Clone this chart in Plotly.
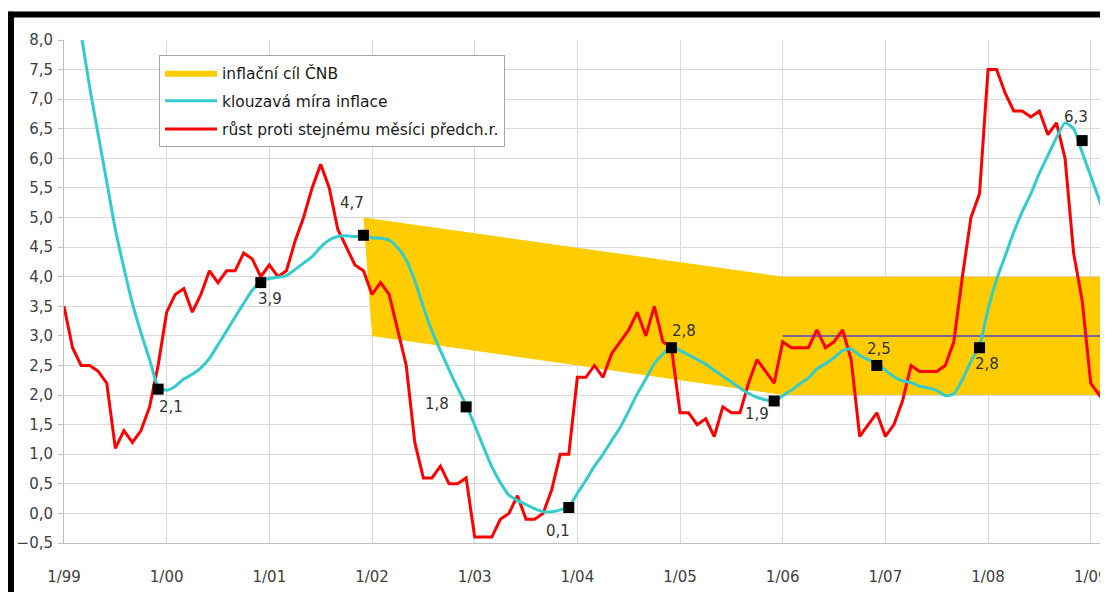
import plotly.graph_objects as go

# ---------------- data (month index 0 = 1/1999) ----------------
yoy_growth = [
    3.5, 2.8, 2.5, 2.5, 2.4, 2.2, 1.1, 1.4, 1.2, 1.4, 1.8, 2.5,        # 1999
    3.4, 3.7, 3.8, 3.4, 3.7, 4.1, 3.9, 4.1, 4.1, 4.4, 4.3, 4.0,        # 2000
    4.2, 4.0, 4.1, 4.6, 5.0, 5.5, 5.9, 5.5, 4.8, 4.5, 4.2, 4.1,        # 2001
    3.7, 3.9, 3.7, 3.1, 2.5, 1.2, 0.6, 0.6, 0.8, 0.5, 0.5, 0.6,        # 2002
    -0.4, -0.4, -0.4, -0.1, 0.0, 0.3, -0.1, -0.1, 0.0, 0.4, 1.0, 1.0,  # 2003
    2.3, 2.3, 2.5, 2.3, 2.7, 2.9, 3.1, 3.4, 3.0, 3.5, 2.9, 2.8,        # 2004
    1.7, 1.7, 1.5, 1.6, 1.3, 1.8, 1.7, 1.7, 2.2, 2.6, 2.4, 2.2,        # 2005
    2.9, 2.8, 2.8, 2.8, 3.1, 2.8, 2.9, 3.1, 2.6, 1.3, 1.5, 1.7,        # 2006
    1.3, 1.5, 1.9, 2.5, 2.4, 2.4, 2.4, 2.5, 2.9, 4.0, 5.0, 5.4,        # 2007
    7.5, 7.5, 7.1, 6.8, 6.8, 6.7, 6.8, 6.4, 6.6, 6.0, 4.4, 3.6,        # 2008
    2.2, 2.0, 2.3,                                                    # 2009
]

moving_avg = [
    None, None, 8.1, 7.2, 6.4, 5.6, 4.8, 4.15, 3.55, 3.05, 2.6, 2.15,          # 1999
    2.08, 2.15, 2.27, 2.35, 2.46, 2.62, 2.85, 3.08, 3.32, 3.55, 3.77, 3.92,    # 2000
    3.97, 3.99, 4.02, 4.12, 4.23, 4.34, 4.5, 4.62, 4.68, 4.69, 4.68, 4.69,     # 2001
    4.66, 4.65, 4.62, 4.49, 4.28, 3.93, 3.49, 3.08, 2.75, 2.43, 2.12, 1.83,    # 2002
    1.49, 1.13, 0.79, 0.52, 0.31, 0.22, 0.15, 0.08, 0.03, 0.03, 0.06, 0.11,    # 2003
    0.34, 0.56, 0.8, 1.0, 1.23, 1.45, 1.73, 2.02, 2.27, 2.53, 2.69, 2.84,      # 2004
    2.75, 2.68, 2.6, 2.52, 2.42, 2.32, 2.22, 2.12, 2.03, 1.96, 1.92, 1.89,     # 2005
    1.99, 2.08, 2.19, 2.29, 2.44, 2.53, 2.63, 2.75, 2.78, 2.67, 2.6, 2.53,     # 2006
    2.42, 2.31, 2.24, 2.21, 2.15, 2.12, 2.08, 1.99, 2.02, 2.26, 2.57, 2.83,    # 2007
    3.45, 3.95, 4.35, 4.75, 5.1, 5.4, 5.75, 6.05, 6.35, 6.6, 6.5, 6.1,         # 2008
    5.7, 5.3, 4.9,                                                            # 2009
]

annual_years = [1999, 2000, 2001, 2002, 2003, 2004, 2005, 2006, 2007, 2008]
annual_avg = [2.1, 3.9, 4.7, 1.8, 0.1, 2.8, 1.9, 2.5, 2.8, 6.3]

# CNB inflation target band (month index of corner points)
band_upper_months = [35, 84, 123]
band_upper = [5.0, 4.0, 4.0]
band_lower_months = [36, 84, 123]
band_lower = [3.0, 2.0, 2.0]
target_mid_months = [84, 123]
target_mid = [3.0, 3.0]

year_tick_months = [0, 12, 24, 36, 48, 60, 72, 84, 96, 108, 120]
year_tick_labels = ["1/99", "1/00", "1/01", "1/02", "1/03", "1/04", "1/05",
                    "1/06", "1/07", "1/08", "1/09"]
mid_tick_months = [6, 18, 30, 42, 54, 66, 78, 90, 102, 114]
mid_tick_labels = ["7", "7", "7", "7", "7", "7", "7", "7", "7", "7"]

legend_names = ["inflační cíl ČNB", "klouzavá míra inflace",
                "růst proti stejnému měsíci předch.r."]

# ---------------- styles ----------------
FONT = "DejaVu Sans"
TXT = "#404040"
GRID = "#d9d9d9"
label_xshift = [13, 9, -11, -29, -11, 13, -17, 2, 8, -6]
label_yshift = [-18, -16, 32, 3, -24, 17, -13, 16, -16, 24]

months = list(range(len(yoy_growth)))
annual_months = [(y - annual_years[0]) * 12 + 11 for y in annual_years]

fig = go.Figure()

fig.add_trace(go.Scatter(
    x=band_upper_months + band_lower_months[::-1],
    y=band_upper + band_lower[::-1],
    fill="toself", fillcolor="#FFCC00", mode="lines",
    line=dict(width=0, color="#FFCC00"),
    name=legend_names[0], legendgroup="g1", legendrank=1, hoverinfo="skip",
))
fig.add_trace(go.Scatter(
    x=target_mid_months, y=target_mid, mode="lines",
    line=dict(color="#76699A", width=2), showlegend=False, hoverinfo="skip",
))
fig.add_trace(go.Scatter(
    x=months, y=yoy_growth, mode="lines",
    line=dict(color="#FF0000", width=3),
    name=legend_names[2], legendgroup="g3", legendrank=3,
))
fig.add_trace(go.Scatter(
    x=months, y=moving_avg, mode="lines",
    line=dict(color="#33CCCC", width=3, shape="spline", smoothing=0.6),
    name=legend_names[1], legendgroup="g2", legendrank=2,
))
fig.add_trace(go.Scatter(
    x=annual_months, y=annual_avg, mode="markers",
    marker=dict(symbol="square", size=11, color="#000000"),
    showlegend=False, cliponaxis=False,
))

annotations = []
for i, (mx, val) in enumerate(zip(annual_months, annual_avg)):
    annotations.append(dict(
        x=mx, y=val, xref="x", yref="y",
        text=f"{val:.1f}".replace(".", ","),
        showarrow=False, xanchor="center", yanchor="middle",
        xshift=label_xshift[i], yshift=label_yshift[i],
        font=dict(family=FONT, size=15, color="#333333"),
    ))

x_range = [0, 122.02]

fig.update_layout(
    width=1108, height=592,
    margin=dict(l=56, r=8, t=32, b=57, pad=0),
    paper_bgcolor="white", plot_bgcolor="white",
    separators=", ",
    font=dict(family=FONT, size=15, color=TXT),
    showlegend=True,
    legend=dict(
        x=0.091, y=0.970, xanchor="left", yanchor="top",
        bgcolor="white", bordercolor="#a6a6a6", borderwidth=1,
        font=dict(family=FONT, size=15.5, color="#1a1a1a"),
        tracegroupgap=5, itemwidth=52,
    ),
    xaxis=dict(
        range=x_range, tickmode="array",
        tickvals=year_tick_months, ticktext=year_tick_labels,
        showgrid=True, gridcolor=GRID, gridwidth=1,
        showline=True, linecolor="#bfbfbf", linewidth=1,
        zeroline=False, ticks="", ticklabelstandoff=20,
        tickfont=dict(family=FONT, size=15, color=TXT),
    ),
    xaxis2=dict(
        range=x_range, overlaying="x", anchor="y", side="bottom",
        tickmode="array", tickvals=mid_tick_months, ticktext=mid_tick_labels,
        showgrid=False, showline=False, zeroline=False, ticks="",
        ticklabelstandoff=20,
        tickfont=dict(family=FONT, size=15, color=TXT),
    ),
    yaxis=dict(
        range=[-0.5, 8.0], tick0=0, dtick=0.5, tickformat=".1f",
        showgrid=True, gridcolor=GRID, gridwidth=1,
        showline=True, linecolor="#bfbfbf", linewidth=1,
        zeroline=False, ticks="outside", ticklen=5, tickcolor="#bfbfbf",
        ticklabelstandoff=2,
        tickfont=dict(family=FONT, size=15, color=TXT),
    ),
    annotations=annotations,
    shapes=[
        dict(type="line", xref="paper", yref="paper",
             x0=-0.062, x1=1.02, y0=1.0507, y1=1.0507,
             line=dict(color="black", width=6)),
        dict(type="line", xref="paper", yref="paper",
             x0=-0.0508, x1=-0.0508, y0=1.056, y1=-0.12,
             line=dict(color="black", width=6)),
    ],
)

fig.write_html("out.html")
